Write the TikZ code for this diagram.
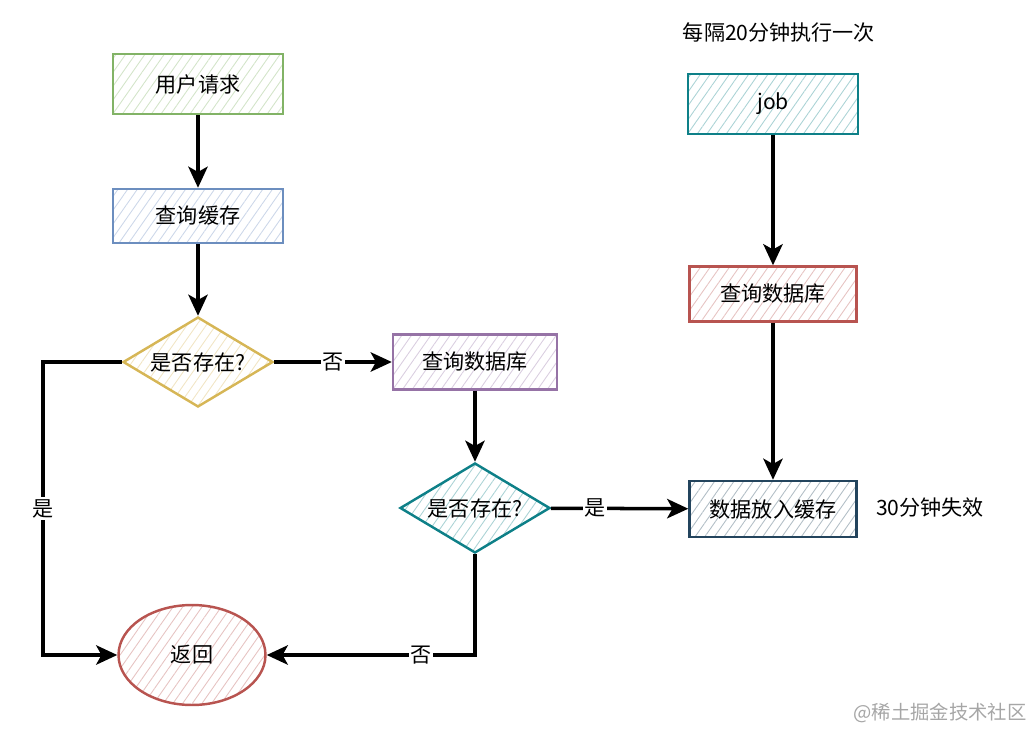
\documentclass[tikz,border=0pt]{standalone}
\usepackage{fontspec}
\setmainfont{Noto Sans CJK SC}
\usetikzlibrary{shapes.geometric,patterns.meta,arrows.meta}
\definecolor{greenln}{HTML}{82B366}
\definecolor{blueln}{HTML}{6C8EBF}
\definecolor{orangeln}{HTML}{D6B656}
\definecolor{purpleln}{HTML}{9673A6}
\definecolor{tealln}{HTML}{0E8088}
\definecolor{redln}{HTML}{B85450}
\definecolor{slateln}{HTML}{23445D}
\tikzset{
  hatch/.style={pattern={Lines[angle=55,distance=4.5pt,line width=0.5pt]},pattern color=#1!35,draw=#1,line width=1.4pt},
  box/.style={rectangle,hatch=#1,minimum width=3.4cm,minimum height=1.2cm,inner sep=0pt},
  decision/.style={diamond,aspect=1.67,hatch=#1,minimum width=3cm,minimum height=1.8cm,inner sep=0pt},
  flow/.style={line width=2pt,-{Stealth[length=12pt,width=11pt,inset=3pt]}},
  lbl/.style={fill=white,inner sep=1pt}
}
\begin{document}
\begin{tikzpicture}[x=0.02cm,y=-0.02cm,font=\fontsize{12}{14}\selectfont]
  \useasboundingbox (0,0) rectangle (1028,730);
  % Request path
  \node[box=greenln] (req) at (198,84) {用户请求};
  \node[box=blueln,minimum height=1.08cm] (cache) at (198,216) {查询缓存};
  \node[decision=orangeln] (hit) at (198,362) {是否存在?};
  \node[box=purpleln,minimum width=3.28cm,minimum height=1.1cm] (db) at (475,362) {查询数据库};
  \node[decision=tealln] (found) at (475,508) {是否存在?};
  \node[ellipse,hatch=redln,minimum width=2.94cm,minimum height=2cm] (ret) at (192,655) {返回};
  % Job path
  \node (every) at (779,32) {每隔20分钟执行一次};
  \node[box=tealln] (job) at (773,104) {job};
  \node[box=redln,minimum width=3.34cm,minimum height=1.1cm] (jobdb) at (773,294) {查询数据库};
  \node[box=slateln,minimum width=3.34cm,minimum height=1.12cm] (fill) at (773,509) {数据放入缓存};
  \node (ttl) at (930,508) {30分钟失效};
  \coordinate (leftturn) at (43,655);
  % Connectors
  \draw[flow] (req) -- (cache);
  \draw[flow] (cache) -- (hit);
  \draw[flow] (hit) -- node[lbl] {否} (db);
  \draw[flow] (hit.west) -| (leftturn) node[lbl,pos=0.75] {是} -- (ret.west);
  \draw[flow] (db) -- (found);
  \draw[flow] (found) -- node[lbl,pos=0.32] {是} (fill);
  \draw[flow] (found.south) |- node[lbl,pos=0.63] {否} (ret.east);
  \draw[flow] (job) -- (jobdb);
  \draw[flow] (jobdb) -- (fill);
  % Watermark
  \node[text=black!35,font=\fontsize{11}{13}\selectfont] (mark) at (940,713) {@稀土掘金技术社区};
\end{tikzpicture}
\end{document}
